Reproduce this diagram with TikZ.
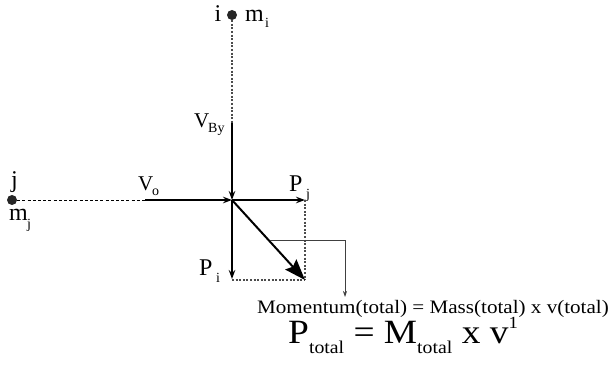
\documentclass[tikz,border=0pt]{standalone}
\usepackage{fontspec}
\setmainfont{Liberation Serif}
\usetikzlibrary{arrows.meta}
\tikzset{
  lbl/.style={inner sep=0pt, font=\fontsize{24}{26}\selectfont},
  vlbl/.style={inner sep=0pt, font=\fontsize{21}{22}\selectfont},
  sub/.style={inner sep=0pt, font=\fontsize{14}{16}\selectfont},
  dotpt/.style={circle, fill=black!85, inner sep=0pt, minimum size=10pt},
  vec/.style={line width=1.2pt, -{Stealth[length=9pt,width=6.5pt]}},
  bigvec/.style={line width=2pt, -{Stealth[length=21pt,width=15pt,inset=3pt]}},
  dotline/.style={line width=1.1pt, black!70, dash pattern=on 2pt off 1.6pt},
  dashline/.style={line width=0.9pt, dash pattern=on 3pt off 2.2pt},
  guide/.style={line width=0.7pt, black!75, -{Stealth[length=6pt,width=4pt]}}
}
\begin{document}
\begin{tikzpicture}[x=1pt,y=-1pt]
\useasboundingbox (0,0) rectangle (610,374);
% points
\node[dotpt] (i) at (232,15) {};
\node[dotpt] (j) at (12,200) {};
\coordinate (O) at (232,200);
\coordinate (iv) at (232,123);
\coordinate (jv) at (145,200);
\coordinate (Pj) at (305,200);
\coordinate (Pi) at (232,279);
\coordinate (R) at (305,280);
\coordinate (g1) at (270,240);
\coordinate (g2) at (345,240);
\coordinate (g3) at (345,297);
% labels
\node[lbl, anchor=base] (li) at (218,22) {i};
\node[lbl, anchor=base west] (lmi) at (245,22) {m};
\node[sub, anchor=base west] (lmis) at (265,28) {i};
\node[lbl, anchor=base west] (lj) at (11,188) {j};
\node[lbl, anchor=base west] (lmj) at (9,220) {m};
\node[sub, anchor=base west] (lmjs) at (27,228) {j};
\node[vlbl, anchor=base west] (lvb) at (194,128) {V};
\node[sub, anchor=base west] (lvbs) at (208,133) {By};
\node[vlbl, anchor=base west] (lvo) at (138,191) {V};
\node[sub, anchor=base west] (lvos) at (152,196) {o};
\node[lbl, anchor=base west] (lpj) at (289,192) {P};
\node[sub, anchor=base west] (lpjs) at (306,199) {j};
\node[lbl, anchor=base west] (lpi) at (199,275) {P};
\node[sub, anchor=base west] (lpis) at (216,282) {i};
% lines
\draw[dotline] (i) -- (iv);
\draw[vec] (iv) -- (O);
\draw[dashline] (j) -- (jv);
\draw[vec] (jv) -- (O);
\draw[vec] (O) -- (Pj);
\draw[vec] (O) -- (Pi);
\draw[dotline] (Pj) -- (R);
\draw[dotline] (Pi.south) ++(0,1) -- (R);
\draw[bigvec] (O) -- (R);
\draw[guide] (g1) -- (g2) -- (g3);
% formulas
\node[inner sep=0pt, anchor=base west, font=\fontsize{19}{21}\selectfont] (mom) at (257,313)
  {\scalebox{1.11}[1]{Momentum(total) = Mass(total) x v(total)}};
\node[inner sep=0pt, anchor=base west, font=\fontsize{34}{36}\selectfont] (ptot) at (288,343)
  {\scalebox{1.1}[1]{P\raisebox{-0.32em}{\fontsize{18}{20}\selectfont total} = M\raisebox{-0.32em}{\fontsize{18}{20}\selectfont total} x v\raisebox{0.42em}{\fontsize{17}{19}\selectfont 1}}};
\end{tikzpicture}
\end{document}
